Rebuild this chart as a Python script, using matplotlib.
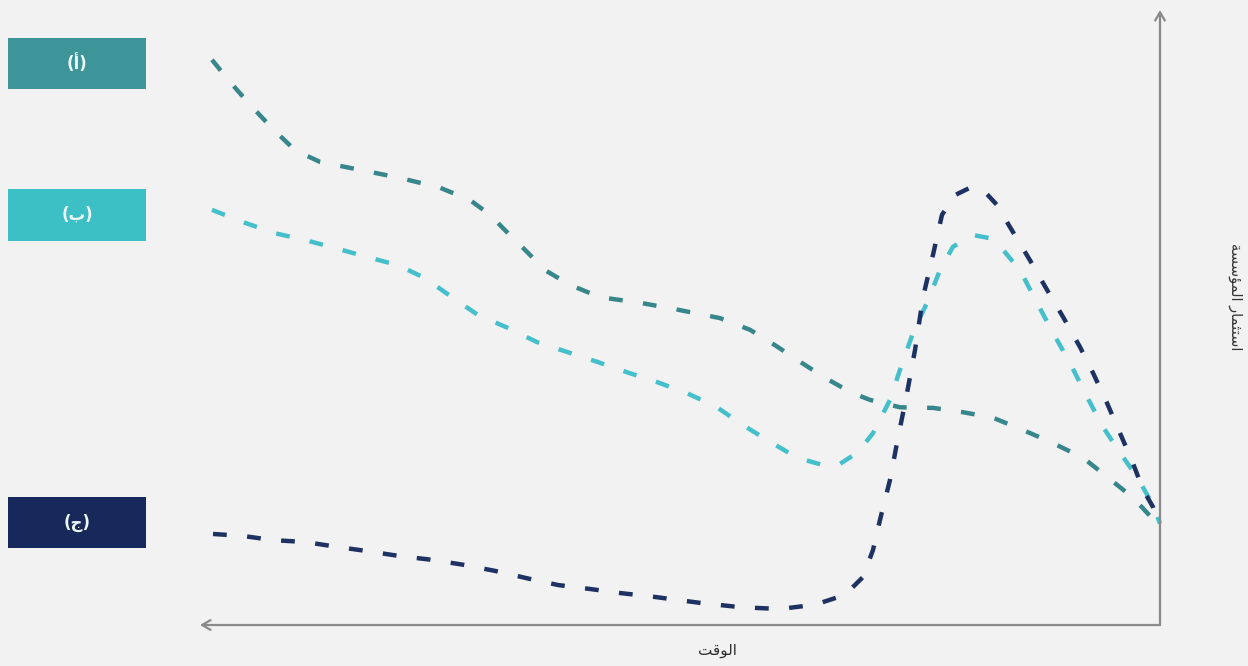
"""plot.py — investment over time, three dashed scenarios"""
import matplotlib
matplotlib.use("Agg")
import matplotlib.pyplot as plt
from matplotlib.patches import Rectangle

# time runs right -> left (origin at the right-hand axis)
t_a = [94.8, 93.0, 91.0, 88.8, 86.5, 84.0, 80.0, 76.0, 72.0, 69.0, 67.0, 65.5, 63.5,
       61.5, 59.0, 56.0, 52.0, 48.0, 44.0, 41.0, 38.5, 36.0, 33.5, 31.0, 29.0, 26.0,
       22.7, 19.7, 16.7, 13.7, 11.0, 7.7, 5.3, 2.7, 0.0]
v_a = [91.9, 88.3, 84.6, 80.8, 77.2, 75.3, 74.0, 72.7, 71.1, 69.1, 66.7, 64.2, 61.0,
       57.7, 55.3, 53.3, 52.4, 51.2, 49.9, 48.0, 45.5, 42.8, 40.2, 37.9, 36.6, 35.4,
       35.3, 34.6, 33.7, 31.7, 29.8, 27.2, 24.1, 20.7, 16.0]

t_b = [94.8, 91.5, 88.5, 85.5, 82.5, 79.2, 76.2, 73.5, 70.8, 68.2, 65.2, 62.3, 59.3,
       56.3, 53.3, 50.3, 47.3, 44.3, 41.7, 39.0, 36.3, 33.7, 32.0, 30.2, 28.7, 27.0,
       26.0, 24.7, 23.3, 22.0, 20.7, 18.7, 17.0, 15.7, 14.0, 12.3, 10.7, 9.0, 7.3,
       5.7, 4.0, 2.3, 0.7, 0.0]
v_b = [67.5, 65.4, 63.7, 62.6, 61.3, 59.8, 58.5, 56.4, 53.3, 50.4, 48.3, 46.0, 44.4,
       42.8, 41.1, 39.5, 37.7, 35.4, 32.5, 29.8, 27.2, 26.0, 26.2, 28.1, 31.2, 36.6,
       41.5, 47.5, 52.4, 57.7, 61.5, 63.4, 62.9, 61.0, 57.7, 52.4, 47.5, 42.6, 37.1,
       32.2, 28.0, 24.1, 19.5, 16.5]

t_c = [94.7, 91.8, 88.7, 85.5, 82.3, 79.2, 76.0, 72.8, 69.7, 66.5, 63.3, 60.2, 57.2,
       54.0, 50.7, 46.0, 42.0, 38.0, 34.5, 31.5, 29.7, 28.7, 28.0, 27.0, 26.3, 25.3,
       24.5, 23.7, 22.7, 21.8, 20.5, 19.0, 17.5, 16.3, 15.0, 13.0, 11.3, 9.7, 8.0,
       6.7, 5.3, 4.0, 2.7, 1.7, 0.7, 0.0]
v_c = [14.8, 14.5, 13.8, 13.5, 12.7, 12.0, 11.2, 10.6, 9.8, 8.8, 7.6, 6.5, 5.9,
       5.2, 4.6, 3.6, 2.9, 2.6, 3.3, 4.9, 7.8, 12.2, 17.1, 23.6, 29.6, 37.7,
       44.7, 53.3, 60.2, 66.7, 69.9, 71.1, 70.4, 68.3, 64.7, 59.3, 54.5, 50.1, 45.2,
       41.0, 36.1, 31.2, 26.3, 22.0, 19.2, 16.2]

labels = ["(\uFE83)", "(\uFE8F)", "(\uFE9D)"]          # (أ) (ب) (ج)
x_label = "\uFE96\uFED7\uFEEE\uFEDF\uFE8D"                # الوقت
y_label = ("\uFE94\uFEB4\uFEB3\uFE86\uFEE4\uFEDF\uFE8D "
           "\uFEAD\uFE8E\uFEE4\uFE9C\uFE98\uFEB3\uFE8D")  # استثمار المؤسسة

line_colors = ["#37868c", "#44bfcb", "#1d3263"]
box_colors = ["#3d9599", "#3dbfc6", "#16295a"]
BG = "#f2f2f2"

fig = plt.figure(figsize=(12.48, 6.66), dpi=100, facecolor=BG)
ax = fig.add_axes([200 / 1248, 41 / 666, 960 / 1248, 615 / 666])
ax.set_facecolor(BG)
ax.set_xlim(96, 0)
ax.set_ylim(0, 100)
for s in ax.spines.values():
    s.set_visible(False)
ax.set_xticks([]); ax.set_yticks([])

for (t, v), c in zip([(t_a, v_a), (t_b, v_b), (t_c, v_c)], line_colors):
    ax.plot(t, v, color=c, lw=3.2, dashes=(3.1, 4.6), dash_capstyle="butt",
            solid_joinstyle="round", clip_on=False)

# axes with arrow heads: y up, time to the left
arrow = dict(arrowstyle="->,head_length=0.6,head_width=0.35", color="#8a8a8a", lw=1.6,
             shrinkA=0, shrinkB=0)
ax.annotate("", xy=(1, 1), xytext=(1, 0), xycoords="axes fraction", arrowprops=arrow)
ax.annotate("", xy=(0, 0), xytext=(1, 0), xycoords="axes fraction", arrowprops=arrow)

fig.text(717 / 1248, 1 - 651 / 666, x_label, ha="center", va="center",
         fontsize=11, color="#2e2e2e", family="DejaVu Sans")
fig.text(1236 / 1248, 1 - 297 / 666, y_label, ha="center", va="center", rotation=270,
         fontsize=10.5, color="#333333", family="DejaVu Sans")

# legend boxes on the left
for (y0, y1), lab, c in zip([(38, 89), (189, 241), (497, 548)], labels, box_colors):
    fig.patches.append(Rectangle((8 / 1248, 1 - y1 / 666), 138 / 1248, (y1 - y0) / 666,
                                 transform=fig.transFigure, facecolor=c, edgecolor="none"))
    fig.text(77 / 1248, 1 - (y0 + y1) / 2 / 666, lab, ha="center", va="center",
             fontsize=12, color="#eef8f8", family="DejaVu Sans", weight="bold")

fig.savefig("out.png", dpi=100, facecolor=BG)
